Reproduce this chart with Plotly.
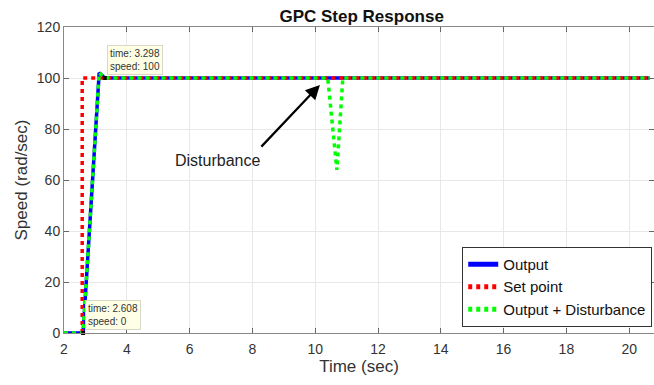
import plotly.graph_objects as go

# ---- data ----
t_out = [2.0, 2.608, 3.12, 3.298, 20.65]
speed_out = [0, 0, 102, 100, 100]

t_sp = [2.58, 2.58, 20.65]
speed_sp = [0, 100, 100]

t_dist = [2.0, 2.608, 3.12, 3.298, 10.40, 10.69, 10.88, 20.65]
speed_dist = [0, 0, 102, 100, 100, 64, 100, 100]

tip_t = [3.298, 2.608]
tip_speed = [100, 0]
tip_text = ["time: 3.298<br>speed: 100", "time: 2.608<br>speed: 0"]

x_ticks = [2, 4, 6, 8, 10, 12, 14, 16, 18, 20]
y_ticks = [0, 20, 40, 60, 80, 100, 120]

arrow_tail = (8.24, 72.5)
arrow_head = (10.15, 97.3)
dist_label_pos = (6.88, 67.5)

FONT = "Liberation Sans, Arial, sans-serif"

fig = go.Figure()
fig.add_trace(go.Scatter(x=t_out, y=speed_out, mode="lines", name="Output",
                         line=dict(color="#0000FF", width=3.5)))
fig.add_trace(go.Scatter(x=t_sp, y=speed_sp, mode="lines", name="Set point",
                         line=dict(color="#FF0000", width=3.5, dash="4px,4px")))
fig.add_trace(go.Scatter(x=t_dist, y=speed_dist, mode="lines", name="Output + Disturbance",
                         line=dict(color="#00FF00", width=3.5, dash="4px,4px")))
fig.add_trace(go.Scatter(x=tip_t, y=tip_speed, mode="markers", showlegend=False,
                         marker=dict(symbol="square", size=4, color="#000000"),
                         cliponaxis=False, hoverinfo="skip"))

annotations = []
for tt, ss, txt in zip(tip_t, tip_speed, tip_text):
    annotations.append(dict(x=tt, y=ss, xref="x", yref="y", text=txt, showarrow=False,
                            xanchor="left", yanchor="bottom", xshift=2, yshift=3,
                            align="left", font=dict(family=FONT, size=10, color="#333333"),
                            bgcolor="#FFFFE6", bordercolor="#D8D8C8", borderwidth=1, borderpad=2))
annotations.append(dict(x=arrow_head[0], y=arrow_head[1], ax=arrow_tail[0], ay=arrow_tail[1],
                        xref="x", yref="y", axref="x", ayref="y", text="", showarrow=True,
                        arrowhead=2, arrowsize=1.3, arrowwidth=2.2, arrowcolor="#000000"))
annotations.append(dict(x=dist_label_pos[0], y=dist_label_pos[1], xref="x", yref="y",
                        text="Disturbance", showarrow=False,
                        font=dict(family=FONT, size=16, color="#222222")))

fig.update_layout(
    width=654, height=385,
    margin=dict(l=64, r=0, t=27, b=52),
    paper_bgcolor="white", plot_bgcolor="white",
    font=dict(family=FONT, size=14, color="#333333"),
    title=dict(text="<b>GPC Step Response</b>", x=0.553, xanchor="center",
               y=1 - 16.5 / 385, yanchor="middle",
               font=dict(family=FONT, size=17, color="#111111")),
    legend=dict(x=0.997, xanchor="right", y=0.02, yanchor="bottom",
                bgcolor="white", bordercolor="#333333", borderwidth=1,
                font=dict(family=FONT, size=15, color="#111111"),
                tracegroupgap=0, itemsizing="constant", itemwidth=30),
    annotations=annotations,
    showlegend=True,
)
fig.update_xaxes(range=[2, 20.79], tickvals=x_ticks, ticks="inside", ticklen=5,
                 tickcolor="#666666", showline=True, linecolor="#888888", linewidth=1,
                 mirror="ticks", showgrid=True, gridcolor="#E8E8E8", gridwidth=1,
                 zeroline=False, tickfont=dict(size=14, color="#333333"),
                 ticklabelstandoff=3,
                 title=dict(text="Time (sec)", font=dict(size=17, color="#333333"), standoff=4))
fig.update_yaxes(range=[0, 120], tickvals=y_ticks, ticks="inside", ticklen=5,
                 tickcolor="#666666", showline=True, linecolor="#888888", linewidth=1,
                 mirror="ticks", showgrid=True, gridcolor="#E8E8E8", gridwidth=1,
                 zeroline=False, tickfont=dict(size=14, color="#333333"),
                 title=dict(text="Speed (rad/sec)", font=dict(size=17, color="#333333"), standoff=4))

fig.write_html("out.html")
